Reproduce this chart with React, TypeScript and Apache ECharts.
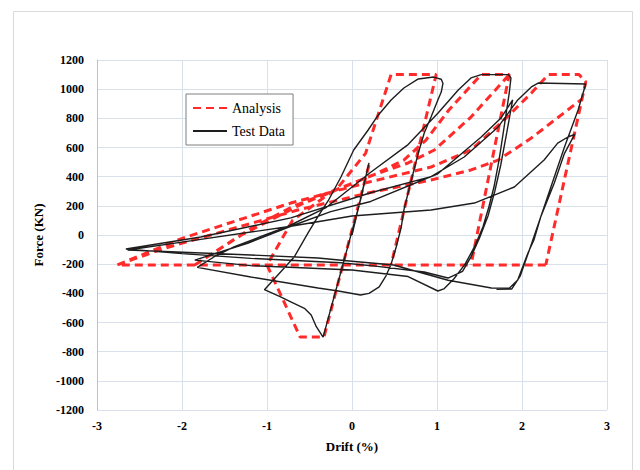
import React, { useEffect, useRef } from "react";
import * as echarts from "echarts";

const X_MIN = -3;
const X_MAX = 3;
const X_STEP = 1;
const Y_MIN = -1200;
const Y_MAX = 1200;
const Y_STEP = 200;

const SERIES_NAMES = ["Analysis", "Test Data"];

// Analysis path; NaN marks a break between separately drawn branches
const ANALYSIS_DRIFT = [
  0.2, -0.33, -0.61, -1.0, -0.7, -0.16, 0.16, 0.46, 0.99, 0.46, NaN,
  2.28, -2.76, NaN,
  -1.85, -1.2, -0.7, 0.25, 0.61, 0.87, 1.14, 1.52, 1.85, 1.4, NaN,
  -1.85, -1.3, -0.6, 0.22, 0.66, 0.97, 1.4, 1.85, NaN,
  -2.76, -1.99, -0.72, 0.2, 0.93, 1.4, 1.79, 2.11, 2.31, 2.67, 2.75, 2.28, NaN,
  -2.76, -2.2, -0.64, 0.19, 0.93, 1.4, 1.72, 2.11, 2.7,
];
const ANALYSIS_FORCE = [
  480, -700, -700, -205, 100, 329, 560, 1100, 1100, -205, NaN,
  -205, -205, NaN,
  -205, 40, 195, 411, 514, 651, 857, 1100, 1100, -205, NaN,
  -205, 0, 210, 405, 494, 583, 809, 1100, NaN,
  -205, -21, 219, 363, 466, 583, 789, 973, 1100, 1100, 1050, -205, NaN,
  -205, -90, 171, 288, 377, 446, 514, 665, 930,
];

const TEST_DRIFT = [
  0, 0.2, 0.1, -0.34, -0.42, -0.48, -0.56, -0.72, -0.84, -1.03,
  -0.68, -0.51, -0.39, -0.28, -0.13, 0.02, 0.19, 0.31, 0.46, 0.61,
  0.78, 0.96, 1.05, 1.07, 1.05, 1.01, 0.93, 0.85, 0.78, 0.72,
  0.66, 0.61, 0.58, 0.52, 0.46, 0.4, 0.32, 0.2, 0.1, -0.16,
  -0.4, -1.19, -1.82, -1.62, -1.39, -1.07, -0.75, -0.3, 0.22, 0.66,
  1.01, 1.25, 1.4, 1.52, 1.84, 1.87, 1.85, 1.79, 1.73, 1.67,
  1.61, 1.54, 1.44, 1.33, 1.2, 1.08, 1.01, 0.66, 0, -0.6,
  -1.19, -1.85, -1.22, -0.72, -0.25, 0.22, 1.01, 1.52, 1.75, 1.89,
  1.82, 1.75, 1.68, 1.6, 1.5, 1.4, 1.3, 1.13, 0.85, 0.3,
  -0.13, -1.19, -2.0, -2.66, -1.78, -0.72, 0.22, 0.93, 1.32, 1.72,
  1.95, 2.11, 2.19, 2.75, 2.66, 2.5, 2.34, 2.22, 2.14, 2.07,
  1.95, 1.85, 1.64, 1.13, 0.49, 0, -0.4, -1.19, -2.64, -1.9,
  -0.72, 0, 0.93, 1.44, 1.91, 2.26, 2.42, 2.54, 2.62, 2.5,
  2.38, 2.22, 2.1, 1.98, 1.88, 1.7,
];
const TEST_FORCE = [
  0, 494, 240, -700, -629, -549, -503, -459, -425, -375,
  -151, 21, 137, 235, 398, 583, 720, 823, 926, 1008,
  1070, 1083, 1068, 1040, 980, 926, 809, 699, 562, 425,
  288, 171, 55, -82, -200, -280, -356, -400, -411, -384,
  -363, -288, -222, -149, -82, -10, 60, 190, 430, 620,
  835, 994, 1077, 1100, 1100, 1077, 974, 741, 514, 329,
  192, 55, -82, -200, -300, -370, -384, -285, -240, -225,
  -210, -172, -55, 60, 160, 230, 420, 672, 800, 926,
  700, 480, 300, 130, -20, -150, -250, -295, -254, -215,
  -190, -160, -128, -96, -14, 117, 290, 400, 535, 741,
  926, 1015, 1042, 1035, 857, 603, 329, 123, -34, -123,
  -309, -365, -363, -310, -206, -180, -158, -137, -103, -40,
  60, 130, 171, 219, 329, 514, 630, 672, 690, 560,
  357, 123, -80, -280, -370, -372,
];

const zip = (xs: number[], ys: number[]) =>
  xs.map((x, i) => (Number.isNaN(x) ? ["-", "-"] : [x, ys[i]]));

const SERIF = "Liberation Serif";
const GRID_COLOR = "#d8e0ea";

export default function App() {
  const ref = useRef<HTMLDivElement>(null);
  useEffect(() => {
    document.body.style.margin = "0";
    if (!ref.current) return;
    const chart = echarts.init(ref.current, undefined, { renderer: "svg" });
    const labelStyle = {
      fontFamily: SERIF,
      fontWeight: "bold" as const,
      fontSize: 12,
      color: "#000",
    };
    chart.setOption({
      animation: false,
      backgroundColor: "#fff",
      graphic: [
        {
          type: "rect",
          left: 11,
          top: 9,
          silent: true,
          shape: { width: 619, height: 480 },
          style: { fill: "none", stroke: "#d9d9d9", lineWidth: 1 },
        },
      ],
      grid: { left: 97, right: 33, top: 60, bottom: 60 },
      legend: {
        data: SERIES_NAMES,
        orient: "vertical",
        left: 186,
        top: 94,
        padding: [7, 8, 7, 6],
        itemGap: 9,
        itemWidth: 34,
        itemHeight: 12,
        borderColor: "#7f7f7f",
        borderWidth: 1,
        backgroundColor: "#fff",
        itemStyle: { opacity: 0 },
        textStyle: { fontFamily: SERIF, fontSize: 14, color: "#000" },
      },
      xAxis: {
        type: "value",
        min: X_MIN,
        max: X_MAX,
        interval: X_STEP,
        name: "Drift (%)",
        nameLocation: "middle",
        nameGap: 30,
        nameTextStyle: { ...labelStyle, fontSize: 13 },
        axisLine: { show: false },
        axisTick: { show: false },
        axisLabel: { ...labelStyle, margin: 10, formatter: (v: number) => String(v) },
        splitLine: { show: true, lineStyle: { color: GRID_COLOR, width: 1 } },
      },
      yAxis: [
        {
          type: "value",
          min: Y_MIN,
          max: Y_MAX,
          interval: Y_STEP,
          name: "Force (KN)",
          nameLocation: "middle",
          nameGap: 52,
          nameTextStyle: { ...labelStyle, fontSize: 13 },
          axisLine: { show: false },
          axisTick: { show: false },
          axisLabel: { ...labelStyle, margin: 13, formatter: (v: number) => String(v) },
          splitLine: { show: true, lineStyle: { color: GRID_COLOR, width: 1 } },
        },
        {
          type: "value",
          min: Y_MIN,
          max: Y_MAX,
          interval: Y_STEP,
          position: "left",
          axisLine: { show: true, onZero: true, lineStyle: { color: "#b3c3d6", width: 1 } },
          axisTick: { show: false },
          axisLabel: { show: false },
          splitLine: { show: false },
        },
      ],
      series: [
        {
          name: SERIES_NAMES[0],
          type: "line",
          data: zip(ANALYSIS_DRIFT, ANALYSIS_FORCE),
          symbol: "none",
          connectNulls: false,
          z: 3,
          lineStyle: { color: "#ff2b2b", width: 3, type: [8, 5] },
          itemStyle: { color: "#ff2b2b" },
        },
        {
          name: SERIES_NAMES[1],
          type: "line",
          data: zip(TEST_DRIFT, TEST_FORCE),
          symbol: "none",
          z: 4,
          lineStyle: { color: "#1e1e1e", width: 1.4 },
          itemStyle: { color: "#1e1e1e" },
        },
      ],
    });
    return () => chart.dispose();
  }, []);
  return <div ref={ref} style={{ width: 640, height: 470 }} />;
}
